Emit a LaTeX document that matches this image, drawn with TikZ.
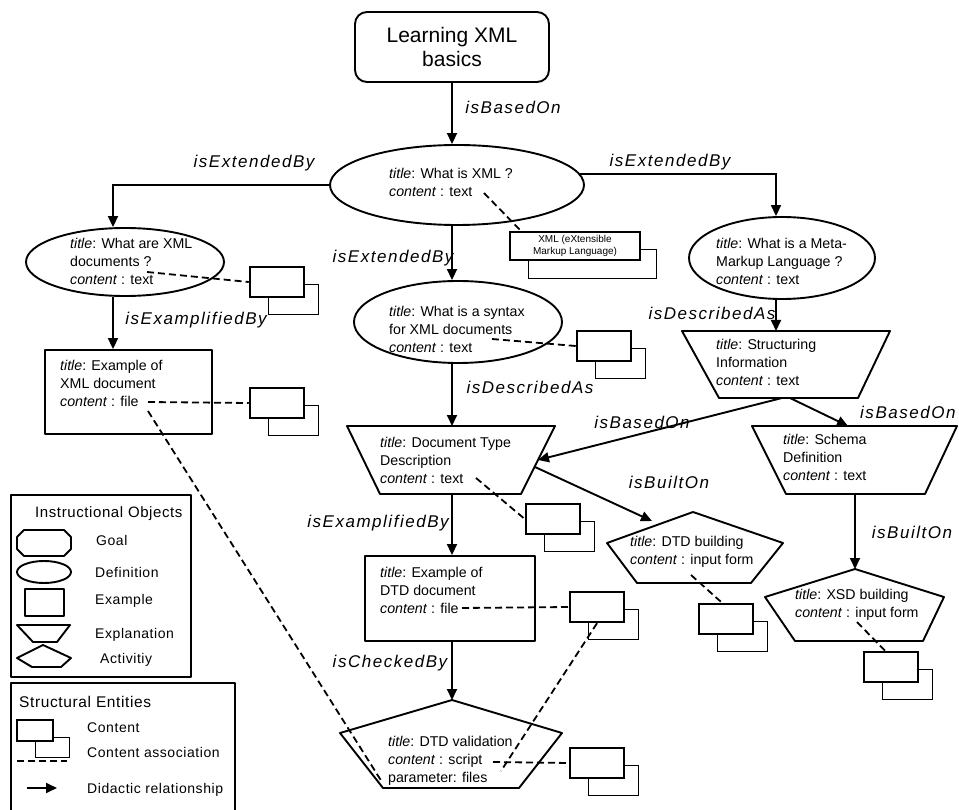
\documentclass[tikz,border=0pt]{standalone}
\usepackage{fontspec}
\setmainfont{Liberation Sans}
\newfontfamily\labfont[LetterSpace=9]{Liberation Sans}
\newfontfamily\legfont[LetterSpace=4]{Liberation Sans}
\usetikzlibrary{arrows.meta,calc,shapes.geometric}
\newcommand\ttl{\textit{title}: }
\newcommand\cnt{\textit{content} : }
\newcommand\contbox[3]{%
  \draw[shadowline] (#2+18,#3+17) rectangle (#2+68,#3+47);
  \node[cboxst] (#1) at (#2+27,#3+15) {};}
\begin{document}
\begin{tikzpicture}[x=1pt,y=-1pt,
  shp/.style={line width=1.9pt, line join=round},
  rel/.style={line width=1.9pt, -{Triangle[length=11pt,width=10pt]}},
  assoc/.style={line width=1.8pt, dash pattern=on 7pt off 4pt},
  lab/.style={font=\labfont\itshape\fontsize{17}{18}\selectfont, inner sep=0pt},
  txt/.style={font=\fontsize{14.2}{18}\selectfont, align=left, inner sep=0pt, anchor=north west},
  legt/.style={font=\legfont\fontsize{14}{16}\selectfont, inner sep=0pt, anchor=base west},
  shadowline/.style={line width=0.7pt},
  cboxst/.style={draw, line width=2.5pt, fill=white, minimum width=54pt, minimum height=30pt, inner sep=0pt}
]
\useasboundingbox (0,0) rectangle (959,810);
\fill[white] (0,0) rectangle (959,810);

% columns
\coordinate (col) at (452,0);
\coordinate (col2) at (113,0);
\coordinate (col3) at (776,0);
\coordinate (col4) at (855,0);

% ---------- shapes ----------
\node[draw, shp, rounded corners=12pt, minimum width=194pt, minimum height=70pt,
      align=center, font=\fontsize{21}{24}\selectfont] (goal) at (452,47) {Learning XML\\basics};

\node[ellipse, draw, shp, minimum width=254pt, minimum height=80pt, inner sep=0pt] (e1) at (457,185) {};
\node[ellipse, draw, shp, minimum width=198pt, minimum height=68pt, inner sep=0pt] (e2) at (125,262) {};
\node[ellipse, draw, shp, minimum width=208pt, minimum height=82pt, inner sep=0pt] (e3) at (458,322) {};
\node[ellipse, draw, shp, minimum width=186pt, minimum height=82pt, inner sep=0pt] (e4) at (782,258) {};

\node[draw, shp, minimum width=167pt, minimum height=84pt, inner sep=0pt] (rxml) at (128.5,392) {};
\node[draw, shp, minimum width=170pt, minimum height=85pt, inner sep=0pt] (rdtd) at (450,598.5) {};

% explanations (trapezoids)
\draw[shp] (347,426) -- (555,426) -- (521,494) -- (380,494) -- cycle;
\coordinate (dtdT) at (452,426); \coordinate (dtdB) at (452,494);
\draw[shp] (682,331) -- (890,331) -- (858,398) -- (719,398) -- cycle;
\coordinate (siT) at (776,331);
\draw[shp] (752,426) -- (957,426) -- (925,494) -- (786,494) -- cycle;
\coordinate (schB) at (855,494);

% activities (pentagons)
\draw[shp] (452,700) -- (562,733) -- (519,788) -- (383,788) -- (340,733) -- cycle;
\coordinate (valT) at (452,700);
\draw[shp] (693,512) -- (783,543) -- (751,583) -- (637,583) -- (607,543) -- cycle;
\draw[shp] (855,569) -- (944,597) -- (923,641) -- (795,641) -- (765,597) -- cycle;
\coordinate (xsdT) at (855,569);

% ---------- texts ----------
\node[txt] (te1) at (389,168.5) {\ttl What is XML ?\\\cnt text};
\node[txt] (te2) at (70,238.5) {\ttl What are XML\\documents ?\\\cnt text};
\node[txt] (te3) at (389,306.5) {\ttl What is a syntax\\for XML documents\\\cnt text};
\node[txt] (te4) at (716,238.5) {\ttl What is a Meta-\\Markup Language ?\\\cnt text};
\node[txt] (trx) at (60,360.5) {\ttl Example of\\XML document\\\cnt file};
\node[txt] (tdtd) at (380,437.5) {\ttl Document Type\\Description\\\cnt text};
\node[txt] (tsi) at (716,339.5) {\ttl Structuring\\Information\\\cnt text};
\node[txt] (tsch) at (783,434.5) {\ttl Schema\\Definition\\\cnt text};
\node[txt] (trd) at (380,567.5) {\ttl Example of\\DTD document\\\cnt file};
\node[txt] (tval) at (388,736.5) {\ttl DTD validation\\\cnt script\\parameter: files};
\node[txt] (tdb) at (630,536.5) {\ttl DTD building\\\cnt input form};
\node[txt] (txsd) at (795,589.5) {\ttl XSD building\\\cnt input form};

% ---------- content associations ----------
\coordinate (a1) at (484,193);   \coordinate (a1e) at (522,232);
\coordinate (a2) at (147,272);
\coordinate (a3) at (148,402);
\coordinate (a4) at (148,411);   \coordinate (a4e) at (382,782);
\coordinate (a5) at (492,339);
\coordinate (a6) at (476,478);
\coordinate (a7) at (462,608);
\coordinate (a8) at (493,762);
\coordinate (a9e) at (501,771);
\coordinate (a10) at (691,575);
\coordinate (a11) at (857,622);

\draw[assoc] (a1) -- (a1e);
\draw[assoc] (a4) -- (a4e);

% content boxes
\draw[shadowline] (528,249) rectangle (656,278);
\node[draw, line width=2pt, fill=white, minimum width=130pt, minimum height=28pt, inner sep=0pt,
      align=center, font=\fontsize{10}{12}\selectfont] (cxml) at (575,246) {XML (eXtensible\\Markup Language)};
\contbox{ce2}{250}{267}
\contbox{crx}{250}{388}
\contbox{ce3}{577}{331}
\contbox{cdtd}{526}{504}
\contbox{crd}{570}{592}
\contbox{cval}{570}{748}
\contbox{cdb}{699}{604}
\contbox{cxsd}{864}{652}

\draw[assoc] (a2) -- (ce2.west);
\draw[assoc] (a3) -- (crx.west);
\draw[assoc] (a5) -- (ce3.west);
\draw[assoc] (a6) -- (cdtd.west);
\draw[assoc] (a7) -- (crd.west);
\draw[assoc] (a8) -- (cval.west);
\draw[assoc] (crd.south) -- (a9e);
\draw[assoc] (a10) -- ($(cdb.north)+(-4,0)$);
\draw[assoc] (a11) -- ($(cxsd.north)+(-6,0)$);

% ---------- didactic relationships ----------
\draw[rel] (goal.south) -- (col |- e1.north);
\draw[rel] (e1.west) -| (col2 |- e2.north);
\draw[rel] (e1.5) -| (col3 |- e4.north);
\draw[rel] (col |- e1.south) -- (col |- e3.north);
\draw[rel] (col2 |- e2.south) -- (col2 |- rxml.north);
\draw[rel] (col |- e3.south) -- (dtdT);
\draw[rel] (dtdB) -- (col |- rdtd.north);
\draw[rel] (col |- rdtd.south) -- (valT);
\draw[rel] (col3 |- e4.south) -- (siT);
\coordinate (siB1) at (782,398); \coordinate (siB2) at (790,398);
\coordinate (dtdR1) at (538,460); \coordinate (dtdR2) at (535,467);
\coordinate (schT) at (848,426); \coordinate (dbL) at (652,521);
\draw[rel] (siB1) -- (dtdR1);
\draw[rel] (siB2) -- (schT);
\draw[rel] (dtdR2) -- (dbL);
\draw[rel] (schB) -- (xsdT);

% ---------- labels ----------
\node[lab] (l1) at (513,107) {isBasedOn};
\node[lab] (l2) at (254,163) {isExtendedBy};
\node[lab] (l3) at (670,162) {isExtendedBy};
\node[lab] (l4) at (393,258) {isExtendedBy};
\node[lab] (l5) at (196,320) {isExamplifiedBy};
\node[lab] (l6) at (530,387) {isDescribedAs};
\node[lab] (l7) at (712,313) {isDescribedAs};
\node[lab] (l8) at (642,422) {isBasedOn};
\node[lab, anchor=west] (l9) at (860,412) {isBasedOn};
\node[lab] (l10) at (669,482) {isBuiltOn};
\node[lab] (l11) at (378,523) {isExamplifiedBy};
\node[lab] (l12) at (390,663) {isCheckedBy};
\node[lab] (l13) at (912,532) {isBuiltOn};

% ---------- legend ----------
\draw[shp] (11,495) rectangle (191,677);
\node[font=\legfont\fontsize{15}{17}\selectfont, inner sep=0pt, anchor=base west] (lg1) at (35,517) {Instructional Objects};
\draw[shp] (24,530) -- (64,530) -- (71,537) -- (71,549) -- (64,556) -- (24,556) -- (17,549) -- (17,537) -- cycle;
\node[legt] (lgg) at (96,545) {Goal};
\draw[shp] (44,572) ellipse [x radius=27pt, y radius=11pt];
\node[legt] (lgd) at (95,577) {Definition};
\draw[shp] (25,589) rectangle (64,616);
\node[legt] (lge) at (95,604) {Example};
\draw[shp] (17,625) -- (70,625) -- (57,642) -- (33,642) -- cycle;
\node[legt] (lgx) at (95,638) {Explanation};
\draw[shp] (43,645) -- (71,658) -- (61,667) -- (32,667) -- (17,658) -- cycle;
\node[legt] (lga) at (100,663) {Activitiy};

\draw[shp] (11,683) rectangle (235,815);
\node[font=\legfont\fontsize{15.5}{17}\selectfont, inner sep=0pt, anchor=base west] (lg2) at (19,707) {Structural Entities};
\draw[shadowline] (35,737) rectangle (69,757);
\draw[line width=2.5pt, fill=white] (17,720) rectangle (53,741);
\node[legt] (lgc) at (87,732) {Content};
\coordinate (lda) at (17,761); \coordinate (ldb) at (67,761);
\draw[assoc] (lda) -- (ldb);
\node[legt] (lgca) at (87,757) {Content association};
\coordinate (lra) at (27,788); \coordinate (lrb) at (57,788);
\draw[rel] (lra) -- (lrb);
\node[legt] (lgr) at (87,793) {Didactic relationship};
\end{tikzpicture}
\end{document}
